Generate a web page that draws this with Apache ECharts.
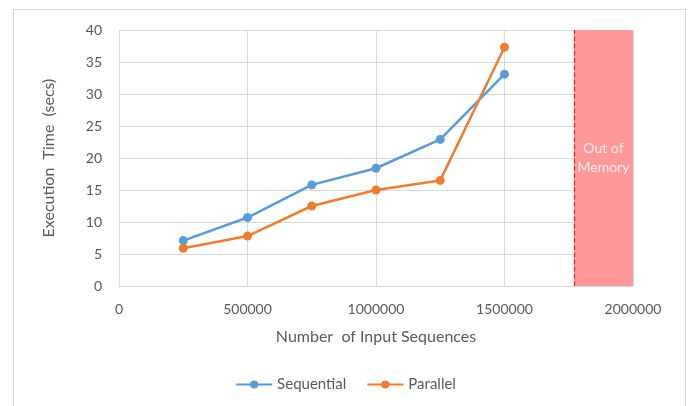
<!DOCTYPE html>
<html><head><meta charset="utf-8">
<script src="https://cdn.jsdelivr.net/npm/echarts@6/dist/echarts.min.js"></script>
<style>html,body{margin:0;padding:0;background:#fff}#c{width:691px;height:406px}
#frame{position:absolute;left:13px;top:9px;width:671px;height:420px;border:1px solid #d9d9d9;pointer-events:none}</style>
</head><body><div id="c"></div><div id="frame"></div>
<script>
const inputSizes = [250000, 500000, 750000, 1000000, 1250000, 1500000];
const sequential = [7.1, 10.7, 15.8, 18.4, 22.9, 33.1];
const parallel = [5.9, 7.8, 12.5, 15.0, 16.5, 37.3];
const outOfMemoryStart = 1770000;
const outOfMemoryEnd = 2000000;
const xTicks = [0, 500000, 1000000, 1500000, 2000000];
const yTicks = [0, 5, 10, 15, 20, 25, 30, 35, 40];

const font = 'Lato, "Open Sans", sans-serif';
const txt = '#595959';
const chart = echarts.init(document.getElementById('c'));
chart.setOption({
  animation: false,
  grid: {left: 119, right: 58, top: 30, bottom: 120},
  textStyle: {fontFamily: font},
  xAxis: {
    type: 'value', min: xTicks[0], max: xTicks[xTicks.length-1], interval: 500000,
    name: 'Number  of Input Sequences', nameLocation: 'middle', nameGap: 43,
    nameTextStyle: {color: txt, fontSize: 16, fontFamily: font},
    axisLine: {show: true, lineStyle: {color: '#d9d9d9'}},
    axisTick: {show: false},
    axisLabel: {color: txt, fontSize: 14, fontFamily: font, margin: 16, formatter: v => String(v)},
    splitLine: {show: true, lineStyle: {color: '#d9d9d9'}}
  },
  yAxis: {
    type: 'value', min: yTicks[0], max: yTicks[yTicks.length-1], interval: 5,
    name: 'Execution  Time  (secs)', nameLocation: 'middle', nameGap: 62,
    nameTextStyle: {color: txt, fontSize: 16, fontFamily: font},
    axisLine: {show: false}, axisTick: {show: false},
    axisLabel: {color: txt, fontSize: 14, fontFamily: font, margin: 17},
    splitLine: {show: true, lineStyle: {color: '#d9d9d9'}}
  },
  legend: {
    bottom: 9, left: 'center', itemWidth: 36, itemHeight: 10, itemGap: 20,
    textStyle: {color: txt, fontSize: 15, fontFamily: font},
    data: ['Sequential', 'Parallel']
  },
  series: [
    {
      name: 'Sequential', type: 'line', color: '#5B9BD5',
      data: inputSizes.map((x, i) => [x, sequential[i]]),
      symbol: 'circle', symbolSize: 9, lineStyle: {width: 2.5},
      markArea: {
        silent: true,
        itemStyle: {color: '#FF9999'},
        label: {show: true, position: 'inside', color: '#FDE8E8', fontSize: 14, fontFamily: font, lineHeight: 19, formatter: 'Out of\nMemory'},
        data: [[{xAxis: outOfMemoryStart, yAxis: 0}, {xAxis: outOfMemoryEnd, yAxis: 40}]]
      },
      markLine: {
        silent: true, symbol: 'none', label: {show: false},
        lineStyle: {color: '#E8202A', type: 'dashed', width: 1.2},
        data: [{xAxis: outOfMemoryStart}]
      }
    },
    {
      name: 'Parallel', type: 'line', color: '#ED7D31',
      data: inputSizes.map((x, i) => [x, parallel[i]]),
      symbol: 'circle', symbolSize: 9, lineStyle: {width: 2.5}
    }
  ]
});
</script>
</body></html>
